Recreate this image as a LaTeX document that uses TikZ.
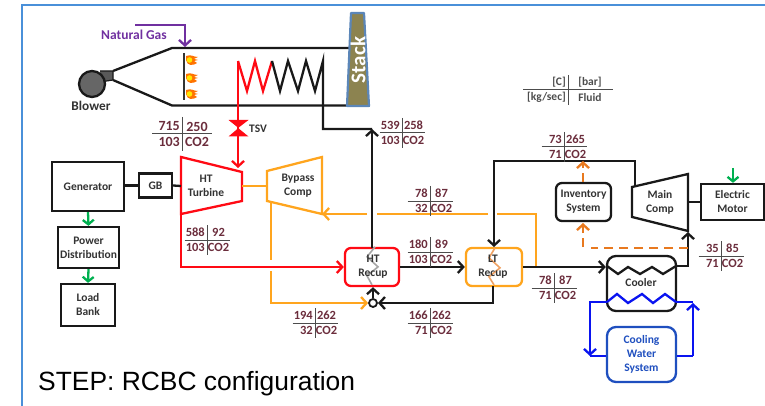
\documentclass[tikz,border=0pt]{standalone}
\usepackage{fontspec}
\setmainfont{Carlito}
\newfontfamily\arialfont{Liberation Sans}
\usetikzlibrary{arrows.meta}
\definecolor{htred}{HTML}{FF0A14}
\definecolor{orng}{HTML}{FFA51E}
\definecolor{dorng}{HTML}{E8791F}
\definecolor{pur}{HTML}{7030A0}
\definecolor{grn}{HTML}{00B050}
\definecolor{blu}{HTML}{0A14F0}
\definecolor{dblu}{HTML}{1F4FBF}
\definecolor{maroon}{HTML}{6B2D3C}
\definecolor{stackfill}{HTML}{8C8350}
\definecolor{stackedge}{HTML}{5B86B8}
\definecolor{frame}{HTML}{4A90D9}
\tikzset{
  x=1pt,y=-1pt,
  tip/.style={-{Straight Barb[length=5.5pt,width=12pt,line width=2.3pt]}},
  flow/.style={line width=2.3pt,line join=miter},
  blk/.style={flow,black!90},
  redl/.style={flow,htred},
  orl/.style={flow,orng},
  bll/.style={flow,blu},
  grl/.style={flow,grn,-{Straight Barb[length=4.5pt,width=11pt,line width=2.3pt]}},
  dsh/.style={flow,dorng,dash pattern=on 9pt off 6pt},
  lab/.style={font=\fontsize{11.5}{14}\selectfont\bfseries,text=black!80,align=center,inner sep=0pt},
  boxn/.style n args={2}{lab,draw=black!90,line width=2.3pt,minimum width=#1,minimum height=#2},
  rboxn/.style n args={2}{lab,line width=2.3pt,rounded corners=6pt,minimum width=#1,minimum height=#2},
  cell/.style={font=\tblfont,text=\tblcol,inner sep=0pt},
}
\newcommand{\flame}[2]{%
  \fill[orange!90!red] (#1-4,#2-4) .. controls (#1+2,#2-6) and (#1+3,#2-3) .. (#1+8,#2-3)
     -- (#1+4,#2-1) -- (#1+8,#2) -- (#1+4,#2+1) -- (#1+7,#2+3)
     .. controls (#1+3,#2+6) and (#1-3,#2+6) .. (#1-4,#2) -- cycle;
  \fill[yellow!90!orange] (#1-0.5,#2) circle (2.8);
}
\newcommand{\flowtbl}[7]{%
  \begin{scope}[shift={(#2,#3)}]
    \coordinate (#1t) at (0,-\tblvh);
    \coordinate (#1b) at (0,\tblvh);
    \coordinate (#1l) at (-\tblhw,0);
    \coordinate (#1r) at (\tblhw,0);
    \draw[line width=1pt,black!70] (#1t) -- (#1b);
    \draw[line width=1pt,black!70] (#1l) -- (#1r);
    \node[cell,anchor=east] (#1a) at (-2,-7.5) {#4};
    \node[cell] (#1c) at (\tblrc,-7.5) {#5};
    \node[cell,anchor=east] (#1d) at (-2,7.5) {#6};
    \node[cell] (#1e) at (\tblrc,7.5) {#7};
  \end{scope}
}
\def\tblfont{\fontsize{12.5}{14}\selectfont\bfseries}
\def\tblcol{maroon}
\def\tblhw{22.5}
\def\tblrc{11.5}
\def\tblvh{15}
\begin{document}
\begin{tikzpicture}
\useasboundingbox (0,0) rectangle (765,406);
\draw[frame,line width=1.3pt] (22,406) -- (22,5) -- (765,5);

% ---- furnace
\coordinate (neckT) at (113,71);
\coordinate (neckB) at (113,80);
\coordinate (fTL) at (172,48);
\coordinate (fBL) at (172,105.5);
\coordinate (fTR) at (349,48);
\coordinate (fBR) at (348,105.5);
\draw[blk] (neckT) -- (fTL) -- (fTR);
\draw[blk] (neckB) -- (fBL) -- (fBR);
\fill[black!65] (100,71) -- (neckT) -- (neckB) -- (100,82) -- cycle;
\draw[black!90,line width=1.2pt] (100,71) -- (neckT) -- (neckB) -- (100,82);
\node[circle,fill=black!60,draw=black!90,line width=2.3pt,minimum size=26pt,inner sep=0pt] (blower) at (92,84) {};
\node[font=\fontsize{13.3}{15}\selectfont\bfseries,text=black!80,inner sep=0pt] (blowerlab) at (91,106) {Blower};
% stack
\path[fill=stackfill,draw=stackedge,line width=2.2pt,line join=round] (351,13) -- (364,13) -- (369,106) -- (347,106) -- cycle;
\node[rotate=90,font=\fontsize{21}{23}\selectfont\bfseries,text=white,inner sep=0pt] (stacklab) at (358,60) {Stack};
% burners
\coordinate (plateT) at (184,53);
\coordinate (plateB) at (184,100);
\draw[line width=2.3pt,black!80] (plateT) -- (plateB);
\flame{190}{60}\flame{190}{78}\flame{190}{94}
% gas
\node[font=\fontsize{13.5}{15}\selectfont\bfseries,text=pur,inner sep=0pt] (gas) at (134,34.5) {Natural Gas};
\coordinate (gasS) at (135,25);
\coordinate (gasC) at (185,25);
\coordinate (gasE) at (185,47);
\draw[flow,pur,tip] (gasS) -- (gasC) -- (gasE);

% ---- turbine and bypass compressor
\draw[flow,htred,line join=miter] (181,157) -- (242,172) -- (242,201) -- (181,214) -- cycle;
\node[lab] (ht) at (206,186) {HT\\Turbine};
\draw[flow,orng] (267,171) -- (322,157) -- (322,214) -- (267,201) -- cycle;
\node[lab] (bypass) at (298,186) {Bypass\\Comp};
\coordinate (htE) at (242,186);
\coordinate (bypW) at (267,186);
\draw[orl] (htE) -- (bypW);
\coordinate (htW) at (181,186);
\coordinate (htBL) at (181,214);

% ---- boxes
\node[boxn={72pt}{49pt}] (gen) at (88,186.5) {Generator};
\node[boxn={33pt}{24pt}] (gb) at (155.5,185.5) {GB};
\node[boxn={61pt}{41pt}] (pd) at (88.5,247.5) {Power\\Distribution};
\node[boxn={54pt}{42pt}] (load) at (88,305) {Load\\Bank};
\node[boxn={63pt}{36pt}] (motor) at (732.5,202) {Electric\\Motor};
\node[rboxn={54pt}{38pt},draw=htred] (hrec) at (372,267) {};
\node[rboxn={56pt}{38pt},draw=orng] (lrec) at (494,267) {};
\node[rboxn={55pt}{38pt},draw=black!90] (inv) at (583.5,202) {Inventory\\System};
\node[rboxn={69pt}{55pt},draw=black!90,rounded corners=9pt] (cool) at (641.5,283.5) {};
\node[rboxn={69pt}{55pt},draw=dblu,rounded corners=9pt,text=dblu] (cws) at (641.5,354.5) {Cooling\\Water\\System};

% recup zigzags and text
\draw[line width=1.6pt,black!35] (hrec.north) ++(3,0) -- ++(-8,10) -- ++(11,10) -- ++(-11,9) -- ++(5,9);
\node[lab] (hreclab) at (373,267) {HT\\Recup};
\draw[line width=1.6pt,dorng!70!white] (lrec.north) ++(1,1) -- ++(-6,10) -- ++(11,10) -- ++(-11,9) -- ++(5,8);
\node[lab] (lreclab) at (493,267) {LT\\Recup};

% cooler coils
\coordinate (cbW) at (607,266);
\coordinate (cbE) at (676,266);
\draw[blk] (cbW) -- (618,274) -- (628,267) -- (640,274) -- (652,267) -- (663,274) -- (cbE);
\node[lab] (coollab) at (641,283) {Cooler};
\coordinate (cwW) at (607,302);
\coordinate (cwE) at (676,302);
\draw[bll] (cwW) -- (617,294) -- (628,303) -- (642,294) -- (653,303) -- (665,294) -- (cwE);

% main compressor
\draw[blk] (632,187) -- (688,174) -- (688,231) -- (632,217) -- cycle;
\node[lab] (main) at (660,202) {Main\\Comp};
\coordinate (mainE) at (688,202);
\coordinate (mainTop) at (635,186);

% ---- shafts
\draw[blk] (gen.east |- gb.west) -- (gb.west);
\draw[blk] (gb.east) -- (htW);
\draw[blk] (mainE) -- (motor.west);
\draw[grl] (gen.south) -- (pd.north);
\draw[grl] (pd.south) -- (load.north);
\coordinate (motorIn) at (733,168);
\draw[grl] (motorIn) -- (motor.north -| motorIn);

% ---- coil and hot gas path
\coordinate (coilS) at (238,61);
\coordinate (coilM) at (272,61);
\coordinate (coilE) at (323,61);
\draw[flow,htred] (coilS) -- (247,91) -- (255,61) -- (263,91) -- (coilM);
\draw[blk] (coilM) -- (280,91) -- (288,61) -- (298,91) -- (306,61) -- (315,91) -- (coilE) -- (323,129) -- (372,129);
\coordinate (hrTop) at (372,248);
\coordinate (hrJoin) at (372,129);
\draw[blk,tip] (hrTop) -- (hrJoin);

% red to turbine, with TSV
\coordinate (tIn) at (238,168);
\draw[redl,tip] (coilS) -- (tIn);
\node[inner sep=0pt,minimum size=0pt] (tsv) at (238.5,128) {};
\fill[htred] (tsv) -- (228.5,120) -- (248.5,120) -- cycle;
\fill[htred] (tsv) -- (228.5,136.5) -- (248.5,136.5) -- cycle;
\node[font=\fontsize{11.5}{13}\selectfont\bfseries,text=black!80,inner sep=0pt] (tsvlab) at (258,128.5) {TSV};

% red HT exhaust to HT recup
\draw[redl,tip] (htBL) -- (181,267) -- (hrec.west);

% orange return to bypass
\coordinate (orgS) at (536,266);
\coordinate (orgC) at (536,214);
\coordinate (orgA) at (497,214);
\coordinate (orgB) at (488,214);
\coordinate (orgD) at (377,214);
\coordinate (orgF) at (367,214);
\coordinate (orgG) at (322,214);
\draw[orl] (orgS) -- (orgC) -- (orgA);
\draw[orl] (orgB) -- (orgD);
\draw[orl,tip] (orgF) -- (orgG);
% bypass outlet
\coordinate (bpO) at (271,202);
\coordinate (bpG1) at (271,260);
\coordinate (bpG2) at (271,271);
\coordinate (bpC) at (271,303);
\node[circle,draw=black!90,line width=1.8pt,fill=white,minimum size=8pt,inner sep=0pt] (mix) at (373,303) {};
\draw[orl] (bpO) -- (bpG1);
\draw[orl,tip] (bpG2) -- (bpC) -- (mix.west);

% black CO2 lines
\draw[blk,tip] (mix.north) -- (hrec.south -| mix.north);
\draw[blk,tip] (hrec.east) -- (lrec.west);
\coordinate (lrB) at (493,286);
\coordinate (lrC) at (493,303);
\draw[blk,tip] (lrB) -- (lrC) -- (mix.east);
\coordinate (lrIn) at (494,247);
\draw[blk,tip] (mainTop) -- (635,161) -- (494,161) -- (lrIn);
\draw[blk,tip] (lrec.east) -- (cool.west |- lrec.east);
\coordinate (coolOut) at (688,266);
\coordinate (mainIn) at (688,232);
\draw[blk,tip] (cbE) -- (coolOut) -- (mainIn);

% inventory dashed
\coordinate (invT) at (583,161);
\coordinate (dashS) at (688,248);
\coordinate (dashC) at (583,248);
\draw[dsh] (inv.north -| invT) -- (583,168);
\draw[flow,dorng,tip] (583,168) -- (invT);
\draw[dsh] (dashS) -- (591,248);
\draw[flow,dorng] (583,247) -- (583,238);
\draw[flow,dorng,tip] (583,233) -- (583,223);

% cooling water loop
\coordinate (cwL) at (590,302);
\coordinate (cwR) at (693,302);
\draw[bll,tip] (cwW) -- (cwL) -- (590,356);
\draw[bll] (cws.west |- 607,356) -- (590,356);
\draw[bll] (cws.east |- 676,356) -- (693,356);
\draw[bll,tip] (693,356) -- (693,303);
\draw[bll] (cwE) -- (cwR);

% ---- data tables
\flowtbl{tc}{402}{133}{539}{258}{103}{CO2}
\flowtbl{te}{564}{147}{73}{265}{71}{CO2}
\flowtbl{tf}{430}{201}{78}{87}{32}{CO2}
\flowtbl{tg}{207}{240}{588}{92}{103}{CO2}
\flowtbl{th}{430}{252}{180}{89}{103}{CO2}
\flowtbl{ti}{554}{288}{78}{87}{71}{CO2}
\flowtbl{tj}{721}{256}{35}{85}{71}{CO2}
\flowtbl{tk}{315}{323}{194}{262}{32}{CO2}
\flowtbl{tm}{430}{323}{166}{262}{71}{CO2}
\begingroup
\def\tblfont{\fontsize{14}{16}\selectfont\bfseries}
\def\tblhw{30}\def\tblrc{15}\def\tblvh{17}
\flowtbl{td}{182}{134}{715}{250}{103}{CO2}
\endgroup
\begingroup
\def\tblfont{\fontsize{11.5}{14}\selectfont\bfseries}
\def\tblcol{black!70}
\def\tblhw{45}\def\tblrc{22}
\flowtbl{tn}{568}{90}{[C]\hspace{15pt}}{[bar]}{[kg/sec]}{Fluid}
\endgroup

\node[font=\arialfont\fontsize{26.4}{30}\selectfont,inner sep=0pt,anchor=base west] (title) at (38,390) {STEP: RCBC configuration};
\end{tikzpicture}
\end{document}
